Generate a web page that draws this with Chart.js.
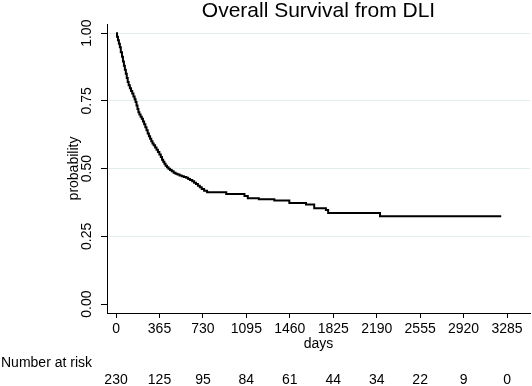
<!DOCTYPE html>
<html>
<head>
<meta charset="utf-8">
<script src="https://cdn.jsdelivr.net/npm/chart.js@4"></script>
<style>
  html, body { margin: 0; padding: 0; background: #fff; }
</style>
</head>
<body>
<canvas id="km" width="532" height="386"></canvas>
<script>
// Kaplan-Meier estimate (days, survival probability)
const days = [0, 8, 16, 24, 32, 40, 50, 58, 66, 74, 82, 90, 98, 106, 116, 126, 136, 146, 156, 164,
  172, 180, 188, 196, 206, 216, 226, 236, 246, 256, 266, 276, 286, 296, 306, 316, 328, 340, 352, 364,
  376, 386, 396, 406, 416, 428, 440, 454, 468, 484, 500, 516, 534, 552, 570, 590, 606, 622, 640, 656,
  672, 688, 704, 720, 740, 765, 926, 1079, 1107, 1200, 1330, 1456, 1596, 1665, 1763, 1782, 2218, 3236];
const survival = [1.000, 0.987, 0.974, 0.961, 0.948, 0.930, 0.913, 0.896, 0.880, 0.865, 0.850, 0.835, 0.820, 0.808, 0.797, 0.787, 0.777, 0.766, 0.756, 0.746,
  0.733, 0.720, 0.708, 0.700, 0.692, 0.684, 0.674, 0.664, 0.653, 0.642, 0.630, 0.620, 0.610, 0.601, 0.593, 0.586, 0.578, 0.570, 0.561, 0.552,
  0.543, 0.533, 0.525, 0.518, 0.511, 0.505, 0.500, 0.495, 0.490, 0.485, 0.481, 0.478, 0.475, 0.472, 0.469, 0.466, 0.462, 0.458, 0.453, 0.448,
  0.443, 0.437, 0.431, 0.425, 0.418, 0.413, 0.406, 0.399, 0.391, 0.387, 0.382, 0.373, 0.368, 0.354, 0.347, 0.336, 0.324, 0.324];

const xTicks = [0, 365, 730, 1095, 1460, 1825, 2190, 2555, 2920, 3285];
const yTicks = [0, 0.25, 0.5, 0.75, 1];
const atRisk = [230, 125, 95, 84, 61, 44, 34, 22, 9, 0];
const titleText = 'Overall Survival from DLI';

const family = '"Liberation Sans", Arial, Helvetica, sans-serif';

// title over the plot area + number-at-risk table under the x axis
const extras = {
  id: 'extras',
  afterDraw(chart) {
    const ctx = chart.ctx;
    const x = chart.scales.x;
    const area = chart.chartArea;
    ctx.save();
    ctx.fillStyle = '#000';
    ctx.textBaseline = 'middle';
    ctx.textAlign = 'center';
    ctx.font = '21px ' + family;
    ctx.fillText(titleText, (area.left + area.right) / 2, 11);

    ctx.font = '14px ' + family;
    ctx.textAlign = 'left';
    ctx.fillText('Number at risk', 1, 363);
    ctx.textAlign = 'center';
    xTicks.forEach((d, i) => {
      ctx.fillText(String(atRisk[i]), x.getPixelForValue(d), 380);
    });
    ctx.restore();
  }
};

const ctx = document.getElementById('km').getContext('2d');
new Chart(ctx, {
  type: 'line',
  data: {
    datasets: [{
      data: days.map((d, i) => ({ x: d, y: survival[i] })),
      borderColor: '#000',
      borderWidth: 2,
      pointRadius: 0,
      stepped: 'before',
      fill: false
    }]
  },
  options: {
    responsive: false,
    animation: false,
    layout: { padding: { left: 0, right: 2, top: 24, bottom: 0 } },
    plugins: {
      legend: { display: false },
      tooltip: { enabled: false },
      title: { display: false }
    },
    scales: {
      x: {
        type: 'linear',
        min: -76,
        max: 3478,
        afterBuildTicks: s => { s.ticks = xTicks.map(v => ({ value: v })); },
        afterFit: s => { s.height = 73; },
        ticks: {
          color: '#000',
          font: { family: family, size: 14 },
          padding: 3,
          maxRotation: 0,
          autoSkip: false,
          callback: v => String(v)
        },
        grid: { drawOnChartArea: false, drawTicks: true, tickLength: 5, tickColor: '#000' },
        border: { color: '#000', width: 1 },
        title: {
          display: true,
          text: 'days',
          color: '#000',
          font: { family: family, size: 14 },
          padding: { top: 0, bottom: 33 }
        }
      },
      y: {
        type: 'linear',
        min: -0.033,
        max: 1.034,
        afterBuildTicks: s => { s.ticks = yTicks.map(v => ({ value: v })); },
        afterFit: s => { s.width = 107; },
        ticks: {
          color: '#000',
          font: { family: family, size: 14 },
          padding: 0,
          minRotation: 90,
          maxRotation: 90,
          crossAlign: 'center',
          callback: v => v.toFixed(2)
        },
        grid: {
          color: c => (c.tick && c.tick.value === 0) ? 'rgba(0,0,0,0)' : '#e4eded',
          lineWidth: 1,
          tickLength: 6,
          tickColor: '#000'
        },
        border: { color: '#000', width: 1 },
        title: {
          display: true,
          text: 'probability',
          color: '#000',
          font: { family: family, size: 14 },
          padding: { top: 66, bottom: 0 }
        }
      }
    }
  },
  plugins: [extras]
});
</script>
</body>
</html>
